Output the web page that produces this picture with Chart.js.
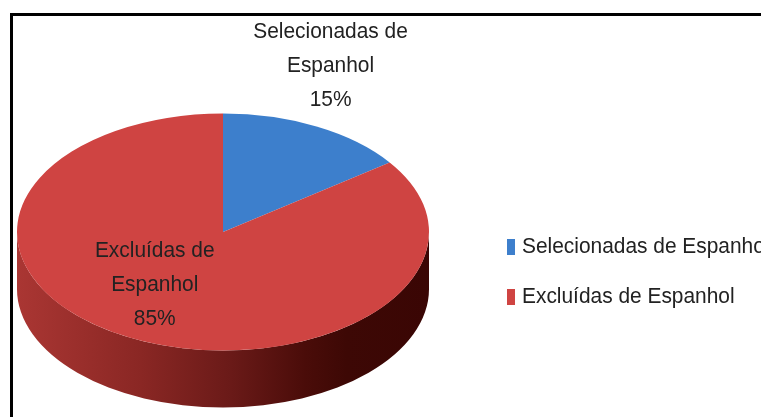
<!DOCTYPE html>
<html>
<head>
<meta charset="utf-8">
<script src="https://cdn.jsdelivr.net/npm/chart.js@4.4.0/dist/chart.umd.min.js"></script>
<style>
    html, body { margin: 0; padding: 0; background: #fff; overflow: hidden; }
    #wrap { position: relative; width: 761px; height: 417px; }
    #frame { position: absolute; left: 10px; top: 13px; width: 800px; height: 450px; border-top: 3px solid #000; border-left: 3px solid #000; }
    canvas { position: absolute; left: 0; top: 0; }
</style>
</head>
<body>
<div id="wrap">
    <div id="frame"></div>
    <canvas id="pieChart" width="761" height="417"></canvas>
</div>
<script>
// Data
const categories = ['Selecionadas de Espanhol', 'Excluídas de Espanhol'];
const percentages = [15, 85];

// Styles
const sliceColors = ['#3d7fcc', '#cf4442'];
const sideStops = [
    [[0, '#2c5f99'], [0.3, '#214a7a'], [0.6, '#123055'], [1, '#0a1f3a']],
    [[0, '#aa3633'], [0.3, '#8a2724'], [0.52, '#6a1a18'], [0.7, '#4a0c09'], [0.8, '#3d0805'], [1, '#3a0604']]
];
const labelPlacement = [{ fx: 1.15, fy: 1.57 }, { fx: 0.73, fy: 0.5 }];
const TILT = 0.575;     // vertical squash of the pie top
const SHIFT_Y = 24;     // move the ellipse centre down
const DEPTH = 57;       // thickness of the 3D side
const FONT = '22px "Liberation Sans", Arial, sans-serif';
const TEXT_SX = 0.95;   // slightly narrower text, like the original

function splitLabel(text) {
    const i = text.lastIndexOf(' ');
    return [text.slice(0, i), text.slice(i + 1)];
}

function drawText(ctx, t, x, y) {
    ctx.save();
    ctx.translate(x, y);
    ctx.scale(TEXT_SX, 1);
    ctx.fillText(t, 0, 0);
    ctx.restore();
}

const pie3d = {
    id: 'pie3d',
    beforeDatasetsDraw(chart) {
        const ctx = chart.ctx;
        const arcs = chart.getDatasetMeta(0).data;
        const cx = arcs[0].x, cy = arcs[0].y, r = arcs[0].outerRadius;
        const ty = cy + SHIFT_Y, ry = r * TILT;

        // side wall, only the front half (0..PI) is visible
        arcs.forEach((arc, i) => {
            [-2 * Math.PI, 0, 2 * Math.PI].forEach(k => {
                const lo = Math.max(arc.startAngle, k);
                const hi = Math.min(arc.endAngle, k + Math.PI);
                if (hi <= lo) return;
                const grad = ctx.createLinearGradient(cx - r, 0, cx + r, 0);
                sideStops[i].forEach(s => grad.addColorStop(s[0], s[1]));
                ctx.beginPath();
                ctx.ellipse(cx, ty, r, ry, 0, lo - k, hi - k);
                ctx.ellipse(cx, ty + DEPTH, r, ry, 0, hi - k, lo - k, true);
                ctx.closePath();
                ctx.fillStyle = grad;
                ctx.fill();
            });
        });

        // squash the chart's own arcs into the top ellipse
        ctx.save();
        ctx.translate(cx, ty);
        ctx.scale(1, TILT);
        ctx.translate(-cx, -cy);
    },
    afterDatasetsDraw(chart) {
        chart.ctx.restore();
    },
    afterDraw(chart) {
        const ctx = chart.ctx;
        const arcs = chart.getDatasetMeta(0).data;
        const cx = arcs[0].x, cy = arcs[0].y, r = arcs[0].outerRadius;
        const ty = cy + SHIFT_Y, ry = r * TILT;
        const values = chart.data.datasets[0].data;
        const total = values.reduce((a, b) => a + b, 0);

        ctx.save();
        ctx.font = FONT;
        ctx.fillStyle = '#222';
        ctx.textAlign = 'center';
        ctx.textBaseline = 'middle';

        // data labels
        arcs.forEach((arc, i) => {
            const mid = (arc.startAngle + arc.endAngle) / 2;
            const p = labelPlacement[i];
            const x = cx + Math.cos(mid) * r * p.fx;
            const y = ty + Math.sin(mid) * ry * p.fy;
            const lines = splitLabel(chart.data.labels[i]);
            lines.push(Math.round(values[i] / total * 100) + '%');
            lines.forEach((t, j) => drawText(ctx, t, x, y + (j - 1) * 34));
        });

        // legend
        ctx.textAlign = 'left';
        chart.data.labels.forEach((lab, i) => {
            const rowY = 247 + i * 50;
            ctx.fillStyle = sliceColors[i];
            ctx.fillRect(507, rowY - 8, 8, 16);
            ctx.fillStyle = '#222';
            drawText(ctx, lab, 522, rowY);
        });
        ctx.restore();
    }
};

const ctx = document.getElementById('pieChart').getContext('2d');
const pieChart = new Chart(ctx, {
    type: 'pie',
    data: {
        labels: categories,
        datasets: [{
            data: percentages,
            backgroundColor: sliceColors,
            borderWidth: 0,
            hoverOffset: 0,
            clip: false
        }]
    },
    options: {
        responsive: false,
        animation: false,
        events: [],
        layout: {
            padding: { left: 17, right: 332, top: 2, bottom: 3 }
        },
        plugins: {
            legend: { display: false },
            tooltip: { enabled: false }
        }
    },
    plugins: [pie3d]
});
</script>
</body>
</html>
